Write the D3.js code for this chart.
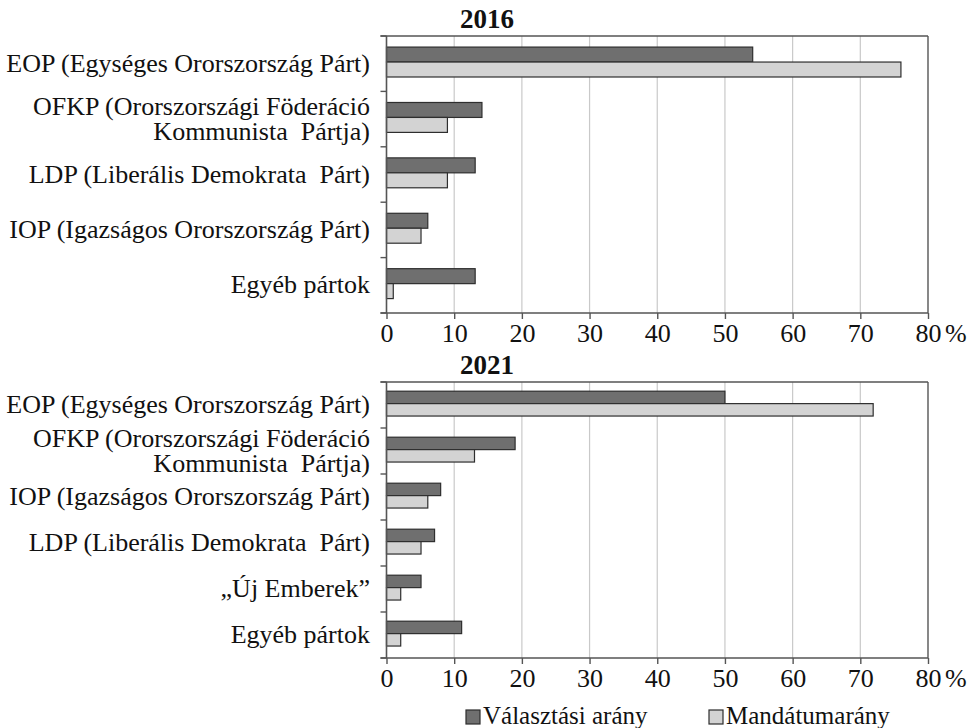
<!DOCTYPE html>
<html>
<head>
<meta charset="utf-8">
<script src="https://cdn.jsdelivr.net/npm/d3@7"></script>
<style>
  body { margin: 0; background: #fff; }
  text { font-family: "Liberation Serif", "Times New Roman", serif; fill: #111; white-space: pre; }
</style>
</head>
<body>
<svg id="chart" width="971" height="728"></svg>
<script>
// Party names (a "\n" splits a label over two lines)
const parties2016 = [
  "EOP (Egységes Ororszország Párt)",
  "OFKP (Ororszországi Föderáció\nKommunista  Pártja)",
  "LDP (Liberális Demokrata  Párt)",
  "IOP (Igazságos Ororszország Párt)",
  "Egyéb pártok"
];
const vote2016  = [54.1, 14.1, 13.1, 6.1, 13.1];
const seats2016 = [76.0, 9.0, 9.0, 5.1, 1.0];

const parties2021 = [
  "EOP (Egységes Ororszország Párt)",
  "OFKP (Ororszországi Föderáció\nKommunista  Pártja)",
  "IOP (Igazságos Ororszország Párt)",
  "LDP (Liberális Demokrata  Párt)",
  "„Új Emberek”",
  "Egyéb pártok"
];
const vote2021  = [50.0, 19.0, 8.0, 7.1, 5.1, 11.1];
const seats2021 = [71.9, 13.0, 6.1, 5.1, 2.1, 2.1];

const xTicks = [0, 10, 20, 30, 40, 50, 60, 70, 80];
const seriesNames = ["Választási arány", "Mandátumarány"];
const seriesColors = ["#6f6f6f", "#d3d3d3"];

const svg = d3.select("#chart");
const x = d3.scaleLinear().domain([0, 80]).range([386.5, 928]);
const axisColor = "#555";
const serif = '"Liberation Serif", "Times New Roman", serif';

function panel(title, parties, vote, seats, top, bottom) {
  const g = svg.append("g");
  const y = d3.scaleBand().domain(parties).range([top, bottom]);
  const bw = y.bandwidth();
  const inner = d3.scaleBand().domain([0, 1]).range([bw * 0.2, bw * 0.74]);

  // vertical gridlines
  g.append("g").selectAll("line")
    .data(xTicks.filter(t => t > 0 && t < 80))
    .join("line")
    .attr("x1", d => x(d)).attr("x2", d => x(d))
    .attr("y1", top).attr("y2", bottom)
    .attr("stroke", "#c9c9c9").attr("stroke-width", 1.2);

  // top and right frame
  g.append("line").attr("x1", x(0) - 6).attr("x2", x(80))
    .attr("y1", top).attr("y2", top)
    .attr("stroke", axisColor).attr("stroke-width", 1.4);
  g.append("line").attr("x1", x(80)).attr("x2", x(80))
    .attr("y1", top).attr("y2", bottom)
    .attr("stroke", axisColor).attr("stroke-width", 1.4);

  // bars
  const rows = parties.map((p, i) => ({ p, v: [vote[i], seats[i]] }));
  const grp = g.append("g").selectAll("g").data(rows).join("g")
    .attr("transform", d => `translate(0,${y(d.p)})`);
  grp.selectAll("rect")
    .data(d => d.v.map((v, k) => ({ v, k })))
    .join("rect")
    .attr("x", x(0))
    .attr("y", d => inner(d.k))
    .attr("width", d => x(d.v) - x(0))
    .attr("height", inner.bandwidth())
    .attr("fill", d => seriesColors[d.k])
    .attr("stroke", "#2e2e2e").attr("stroke-width", 1.2);

  // category axis: line plus ticks on band boundaries
  const bounds = parties.map(p => y(p)).concat([bottom]);
  g.append("line").attr("x1", x(0)).attr("x2", x(0))
    .attr("y1", top).attr("y2", bottom)
    .attr("stroke", axisColor).attr("stroke-width", 1.6);
  g.append("g").selectAll("line").data(bounds).join("line")
    .attr("x1", x(0) - 6).attr("x2", x(0))
    .attr("y1", d => d).attr("y2", d => d)
    .attr("stroke", axisColor).attr("stroke-width", 1.4);

  // category labels
  g.append("g").selectAll("text").data(parties).join("text")
    .attr("text-anchor", "end")
    .attr("font-size", 26)
    .each(function (d) {
      const lines = d.split("\n");
      const cy = y(d) + bw / 2;
      const t = d3.select(this);
      lines.forEach((ln, i) => {
        t.append("tspan")
          .attr("x", 370)
          .attr("y", cy + 8 + (i - (lines.length - 1) / 2) * 25)
          .text(ln);
      });
    });

  // value axis
  const ax = g.append("g").attr("transform", `translate(0,${bottom})`)
    .call(d3.axisBottom(x).tickValues(xTicks).tickSize(6).tickSizeOuter(0).tickPadding(5)
      .tickFormat(d3.format("d")));
  ax.select(".domain").attr("stroke", axisColor).attr("stroke-width", 1.6)
    .attr("d", `M${x(0) - 6},0H${x(80)}`);
  ax.selectAll(".tick line").attr("stroke", axisColor).attr("stroke-width", 1.4);
  ax.selectAll(".tick text")
    .attr("font-family", serif)
    .attr("font-size", 26).attr("fill", "#111");
  ax.append("text")
    .attr("x", x(80) + 17).attr("y", 11).attr("dy", "0.71em")
    .attr("text-anchor", "start")
    .attr("font-size", 26)
    .attr("font-family", serif)
    .attr("fill", "#111")
    .text("%");

  // panel title
  g.append("text")
    .attr("x", 487).attr("y", top - 8)
    .attr("text-anchor", "middle")
    .attr("font-size", 27).attr("font-weight", "bold")
    .text(title);
}

panel("2016", parties2016, vote2016, seats2016, 36, 313);
panel("2021", parties2021, vote2021, seats2021, 382, 658);

// legend
const legendX = [466, 709];
const lg = svg.append("g").selectAll("g").data(seriesNames).join("g")
  .attr("transform", (d, i) => `translate(${legendX[i]},710)`);
lg.append("rect").attr("width", 14).attr("height", 14)
  .attr("fill", (d, i) => seriesColors[i])
  .attr("stroke", "#2e2e2e").attr("stroke-width", 1.2);
lg.append("text").attr("x", 17).attr("y", 14)
  .attr("font-size", 25).text(d => d);
</script>
</body>
</html>
